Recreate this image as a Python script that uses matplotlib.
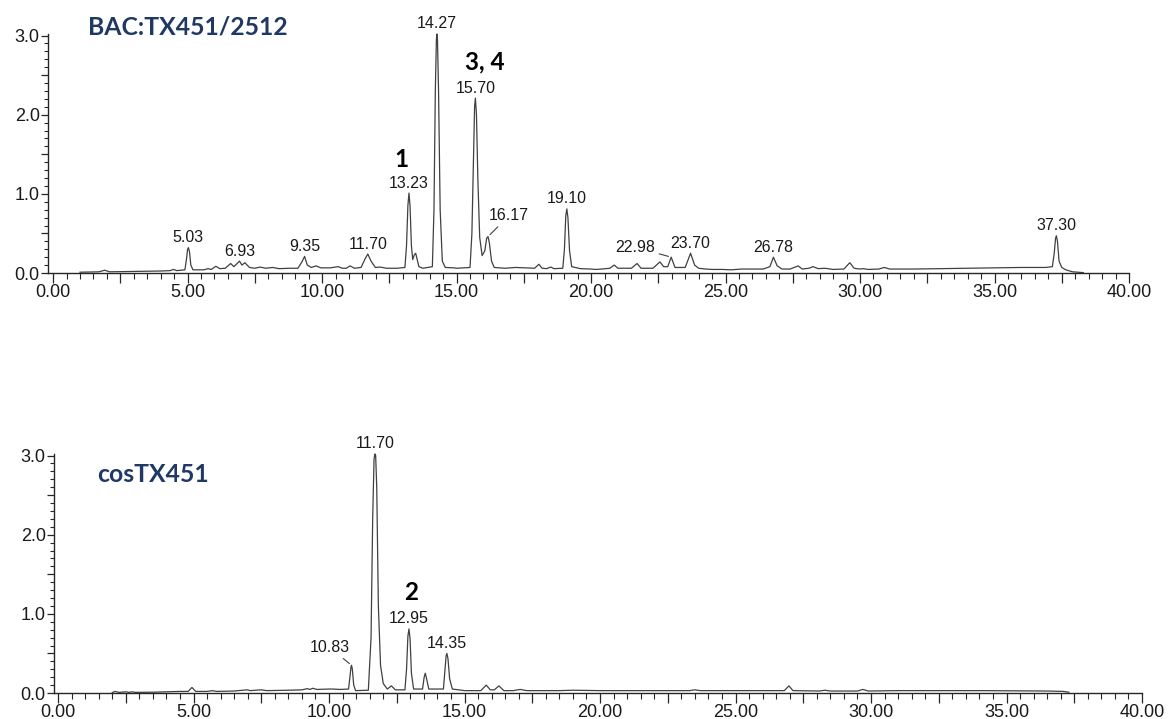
import numpy as np
import matplotlib
matplotlib.use("Agg")
import matplotlib.pyplot as plt
from matplotlib.ticker import MultipleLocator, FuncFormatter

plt.rcParams["font.family"] = ["Liberation Sans", "DejaVu Sans"]

# ---------- trace data (retention time in min, detector response) ----------

bac_time = [
    1.00, 1.70, 1.92, 2.10, 3.00, 4.00, 4.35, 4.47, 4.60, 4.90,
    4.96, 5.00, 5.03, 5.07, 5.12, 5.20, 5.60, 5.76, 5.88, 6.05,
    6.20, 6.40, 6.60, 6.72, 6.93, 7.02, 7.13, 7.30, 7.50, 7.70,
    7.90, 8.16, 8.40, 8.80, 9.10, 9.25, 9.35, 9.45, 9.60, 9.78,
    9.95, 10.30, 10.60, 10.75, 10.90, 11.04, 11.20, 11.45, 11.60, 11.70,
    11.82, 11.98, 12.15, 12.40, 12.80, 13.08, 13.14, 13.19, 13.23, 13.27,
    13.32, 13.37, 13.43, 13.48, 13.53, 13.60, 13.75, 14.10, 14.16, 14.21,
    14.25, 14.27, 14.29, 14.33, 14.39, 14.47, 14.58, 14.90, 15.00, 15.50,
    15.57, 15.63, 15.67, 15.70, 15.74, 15.79, 15.86, 15.95, 16.05, 16.12,
    16.17, 16.22, 16.30, 16.40, 16.80, 17.20, 17.60, 17.90, 18.06, 18.18,
    18.35, 18.50, 18.62, 18.95, 19.01, 19.06, 19.10, 19.14, 19.20, 19.28,
    19.60, 20.00, 20.16, 20.40, 20.70, 20.86, 21.00, 21.50, 21.71, 21.86,
    22.30, 22.56, 22.70, 22.85, 22.98, 23.12, 23.50, 23.70, 23.85, 24.00,
    24.26, 24.50, 24.90, 25.20, 25.60, 26.00, 26.40, 26.65, 26.78, 26.92,
    27.10, 27.40, 27.70, 27.85, 28.10, 28.25, 28.45, 28.70, 29.00, 29.40,
    29.62, 29.78, 30.00, 30.13, 30.30, 30.70, 30.90, 31.10, 32.00, 33.00,
    34.00, 35.00, 36.00, 36.90, 37.15, 37.22, 37.27, 37.30, 37.34, 37.40,
    37.50, 37.65, 37.90, 38.30,
]
bac_signal = [
    0.010, 0.015, 0.035, 0.015, 0.020, 0.025, 0.030, 0.045, 0.030, 0.040,
    0.180, 0.300, 0.320, 0.270, 0.100, 0.040, 0.040, 0.055, 0.045, 0.085,
    0.055, 0.060, 0.120, 0.080, 0.150, 0.100, 0.130, 0.070, 0.060, 0.075,
    0.060, 0.070, 0.055, 0.060, 0.060, 0.140, 0.210, 0.100, 0.070, 0.090,
    0.065, 0.065, 0.080, 0.060, 0.060, 0.090, 0.060, 0.070, 0.180, 0.240,
    0.150, 0.070, 0.075, 0.060, 0.060, 0.070, 0.350, 0.850, 1.010, 0.850,
    0.350, 0.170, 0.230, 0.250, 0.180, 0.080, 0.060, 0.080, 0.800, 2.300,
    2.950, 3.020, 2.950, 2.300, 0.800, 0.150, 0.070, 0.065, 0.060, 0.070,
    0.500, 1.500, 2.100, 2.210, 2.000, 1.200, 0.450, 0.220, 0.280, 0.440,
    0.460, 0.380, 0.150, 0.070, 0.060, 0.070, 0.065, 0.060, 0.110, 0.060,
    0.055, 0.075, 0.055, 0.060, 0.300, 0.720, 0.810, 0.700, 0.280, 0.080,
    0.055, 0.050, 0.045, 0.050, 0.060, 0.100, 0.060, 0.060, 0.120, 0.060,
    0.060, 0.140, 0.080, 0.080, 0.200, 0.070, 0.070, 0.250, 0.100, 0.060,
    0.050, 0.045, 0.045, 0.040, 0.050, 0.050, 0.050, 0.080, 0.200, 0.090,
    0.050, 0.050, 0.090, 0.050, 0.060, 0.080, 0.055, 0.060, 0.045, 0.050,
    0.130, 0.060, 0.050, 0.055, 0.045, 0.050, 0.070, 0.050, 0.050, 0.055,
    0.060, 0.065, 0.070, 0.070, 0.080, 0.250, 0.440, 0.470, 0.400, 0.150,
    0.070, 0.040, 0.015, 0.005,
]

cos_time = [
    2.00, 2.10, 2.25, 2.50, 2.62, 2.73, 2.85, 3.50, 4.50, 4.80,
    4.94, 5.08, 5.50, 5.70, 5.85, 6.50, 6.97, 7.10, 7.50, 7.70,
    8.50, 9.00, 9.20, 9.30, 9.40, 9.55, 10.00, 10.15, 10.40, 10.72,
    10.77, 10.81, 10.83, 10.86, 10.91, 10.98, 11.45, 11.55, 11.61, 11.66,
    11.68, 11.70, 11.72, 11.76, 11.82, 11.90, 12.00, 12.15, 12.30, 12.45,
    12.80, 12.86, 12.91, 12.95, 12.99, 13.04, 13.12, 13.45, 13.51, 13.55,
    13.60, 13.68, 14.22, 14.28, 14.32, 14.35, 14.39, 14.45, 14.55, 15.00,
    15.60, 15.80, 15.95, 16.10, 16.27, 16.45, 16.80, 17.05, 17.30, 18.50,
    19.00, 20.00, 21.50, 23.30, 23.50, 23.70, 25.00, 26.80, 26.97, 27.12,
    28.10, 28.30, 28.50, 29.50, 29.70, 29.90, 31.00, 34.00, 36.50, 37.10,
    37.30,
]
cos_signal = [
    0.005, 0.020, 0.008, 0.015, 0.008, 0.015, 0.008, 0.010, 0.020, 0.020,
    0.070, 0.020, 0.020, 0.030, 0.020, 0.025, 0.040, 0.030, 0.040, 0.030,
    0.035, 0.040, 0.055, 0.045, 0.060, 0.045, 0.050, 0.050, 0.045, 0.050,
    0.200, 0.330, 0.350, 0.300, 0.100, 0.030, 0.035, 0.700, 2.200, 2.950,
    3.000, 3.020, 3.000, 2.600, 1.100, 0.350, 0.120, 0.050, 0.090, 0.040,
    0.040, 0.300, 0.720, 0.810, 0.680, 0.250, 0.050, 0.050, 0.200, 0.250,
    0.180, 0.050, 0.050, 0.300, 0.470, 0.500, 0.430, 0.180, 0.050, 0.030,
    0.030, 0.100, 0.040, 0.040, 0.090, 0.030, 0.030, 0.045, 0.030, 0.030,
    0.035, 0.030, 0.030, 0.030, 0.040, 0.030, 0.030, 0.030, 0.090, 0.030,
    0.025, 0.035, 0.025, 0.025, 0.045, 0.025, 0.030, 0.030, 0.025, 0.020,
    0.010,
]

# labelled peaks: retention time, label offset (px)
bac_peaks = [5.03, 6.93, 9.35, 11.70, 13.23, 14.27, 15.70, 16.17, 19.10,
             22.98, 23.70, 26.78, 37.30]
bac_offsets = {16.17: (21, 21), 22.98: (-36, 10)}
cos_peaks = [10.83, 11.70, 12.95, 14.35]
cos_offsets = {10.83: (-22, 18)}

# compound numbers placed over their peaks
bac_compounds = [("1", 13.23, (-8, 34)), ("3, 4", 15.70, (9, 36))]
cos_compounds = [("2", 12.95, (2, 36))]

TITLE_FONT = "Lato"
TRACE_COLOR = "#404040"
AXIS_COLOR = "#262626"
TITLE_COLOR = "#1f3864"

W, H = 1172, 719
fig = plt.figure(figsize=(W / 100, H / 100), dpi=100)


def px_axes(left, right, bottom, top):
    """Axes rectangle from pixel edges (top-left origin)."""
    return fig.add_axes([left / W, 1 - bottom / H, (right - left) / W, (bottom - top) / H])


def style_axes(ax, xmin):
    ax.set_xlim(xmin, 40)
    ax.set_ylim(0, 3.02)
    for side in ("top", "right"):
        ax.spines[side].set_visible(False)
    for side in ("left", "bottom"):
        ax.spines[side].set_color(AXIS_COLOR)
        ax.spines[side].set_linewidth(1.0)
    ax.xaxis.set_major_locator(MultipleLocator(2.5))
    ax.xaxis.set_minor_locator(MultipleLocator(0.5))
    ax.yaxis.set_major_locator(MultipleLocator(0.5))
    ax.yaxis.set_minor_locator(MultipleLocator(0.1))
    ax.xaxis.set_major_formatter(FuncFormatter(
        lambda v, p: f"{v:.2f}" if abs(v / 5 - round(v / 5)) < 1e-6 else ""))
    ax.yaxis.set_major_formatter(FuncFormatter(
        lambda v, p: f"{v:.1f}" if abs(v - round(v)) < 1e-6 else ""))
    ax.tick_params(axis="x", which="major", direction="out", length=7, width=0.9,
                   color=AXIS_COLOR, labelsize=13, labelcolor="#1a1a1a", pad=1)
    ax.tick_params(axis="x", which="minor", direction="out", length=4, width=0.8,
                   color=AXIS_COLOR)
    ax.tick_params(axis="y", which="major", direction="out", length=5, width=0.9,
                   color=AXIS_COLOR, labelsize=13, labelcolor="#1a1a1a", pad=1)
    ax.tick_params(axis="y", which="minor", direction="out", length=3, width=0.8,
                   color=AXIS_COLOR)
    ax.set_facecolor("none")


def draw_trace(ax, time, signal, peaks, offsets, compounds):
    ax.plot(time, signal, color=TRACE_COLOR, lw=0.9, clip_on=False)
    for rt in peaks:
        y = np.interp(rt, time, signal)
        dx, dy = offsets.get(rt, (0, 10))
        arrow = dict(arrowstyle="-", color=TRACE_COLOR, lw=0.8,
                     shrinkA=1, shrinkB=2) if rt in offsets else None
        ax.annotate(f"{rt:.2f}", xy=(rt, y), xytext=(dx, dy),
                    textcoords="offset pixels", ha="center", va="center",
                    fontsize=11.5, color="#1a1a1a",
                    arrowprops=arrow, annotation_clip=False)
    for text, rt, (dx, dy) in compounds:
        y = np.interp(rt, time, signal)
        ax.annotate(text, xy=(rt, y), xytext=(dx, dy), textcoords="offset pixels",
                    ha="center", va="center", fontsize=17.5, fontweight="bold",
                    family=TITLE_FONT, color="black", annotation_clip=False)


# BAC clone chromatogram
ax_top = px_axes(48, 1129, 273, 34)
style_axes(ax_top, -0.19)
draw_trace(ax_top, bac_time, bac_signal, bac_peaks, bac_offsets, bac_compounds)

# cosmid chromatogram
ax_bot = px_axes(54, 1142, 693, 454)
style_axes(ax_bot, -0.15)
draw_trace(ax_bot, cos_time, cos_signal, cos_peaks, cos_offsets, cos_compounds)

fig.text(88 / W, 1 - 27 / H, "BAC:TX451/2512", ha="left", va="center",
         fontsize=17.8, fontweight="bold", family=TITLE_FONT, color=TITLE_COLOR)
fig.text(97 / W, 1 - 475 / H, "cosTX451", ha="left", va="center",
         fontsize=17.8, fontweight="bold", family=TITLE_FONT, color=TITLE_COLOR)

fig.savefig("out.png", dpi=100, facecolor="white")
